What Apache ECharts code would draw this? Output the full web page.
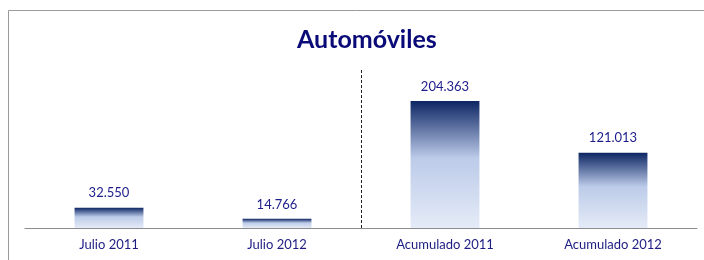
<!DOCTYPE html>
<html>
<head>
<meta charset="utf-8">
<script src="https://cdn.jsdelivr.net/npm/echarts@6/dist/echarts.min.js"></script>
<style>
  html, body { margin: 0; padding: 0; background: #fff; }
  #chart { width: 704px; height: 260px; }
</style>
</head>
<body>
<div id="chart"></div>
<script>
// Automóviles - unidades
const categories = ['Julio 2011', 'Julio 2012', 'Acumulado 2011', 'Acumulado 2012'];
const values = [32550, 14766, 204363, 121013];
const groups = ['Mes', 'Acumulado'];

const chart = echarts.init(document.getElementById('chart'));

const barFill = new echarts.graphic.LinearGradient(0, 0, 0, 1, [
  { offset: 0, color: '#0c2563' },
  { offset: 0.45, color: '#bccbe9' },
  { offset: 1, color: '#e5ebf7' }
]);

const option = {
  backgroundColor: '#fff',
  animation: false,
  title: {
    text: 'Automóviles',
    left: 292,
    top: 22,
    textStyle: { color: '#0a0a78', fontFamily: 'Lato', fontWeight: 'bold', fontSize: 25 }
  },
  graphic: [{
    type: 'rect',
    shape: { x: 8.5, y: 10.5, width: 720, height: 300 },
    style: { fill: 'none', stroke: '#9a9a9a', lineWidth: 1 },
    silent: true
  }],
  grid: { left: 25, right: 7, top: 70, bottom: 32 },
  xAxis: [{
    type: 'category',
    data: categories,
    axisLine: { lineStyle: { color: '#8c8c8c' } },
    axisTick: { length: 4, lineStyle: { color: '#8c8c8c' } },
    axisLabel: { color: '#1c1c82', fontFamily: 'Lato', fontSize: 13, margin: 10 }
  }, {
    // separador entre mes y acumulado
    type: 'category',
    data: groups,
    position: 'bottom',
    axisLine: { show: false },
    axisTick: { show: false },
    axisLabel: { show: false },
    splitLine: {
      show: true,
      showMinLine: false,
      showMaxLine: false,
      lineStyle: { color: '#222', type: [3, 2], width: 1 }
    }
  }],
  yAxis: {
    type: 'value',
    min: 0,
    max: 254000,
    show: false,
    splitLine: { show: false }
  },
  series: [{
    type: 'bar',
    data: values,
    barWidth: '41%',
    itemStyle: { color: barFill },
    label: {
      show: true,
      position: 'top',
      distance: 8,
      color: '#1c1c8c',
      fontFamily: 'Lato',
      fontSize: 13,
      formatter: (p) => p.value.toLocaleString('de-DE')
    }
  }]
};

chart.setOption(option);
</script>
</body>
</html>
